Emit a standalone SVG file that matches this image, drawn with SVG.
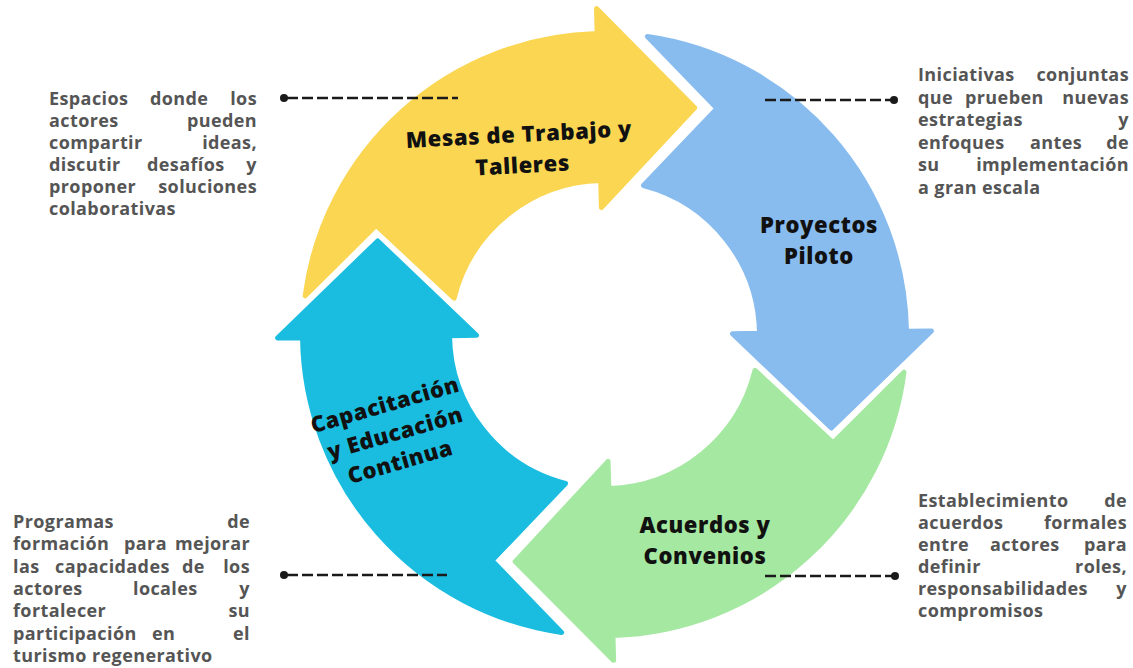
<svg xmlns="http://www.w3.org/2000/svg" width="1133" height="668" viewBox="0 0 1133 668">
<defs>
<path id="arrowShape" d="M 306.2 286.44 A 302 302 0 0 1 604.5 31.5 L 604.5 6.5 L 700.2 108 L 604.5 205.5 L 604.5 178.5 A 155 155 0 0 0 455.08 292.47 L 379 217.8 Z"/>
</defs>
<style>
.arrow { stroke-width:5; stroke-linejoin:round; }
.lbl { font-family:"Open Sans","Liberation Sans",sans-serif; font-weight:800; font-size:22px; letter-spacing:0.6px; fill:#111; text-anchor:middle; }
.desc { font-family:"Open Sans","Liberation Sans",sans-serif; font-weight:700; font-size:18px; fill:#555555; letter-spacing:0.4px; }
.e { text-anchor:end; }
.dash { stroke:#1a1a1a; stroke-width:2.5; stroke-dasharray:11 4; fill:none; }
.dot { fill:#1a1a1a; }
</style>
<rect width="1133" height="668" fill="#ffffff"/>

<g id="node-mesas">
<use href="#arrowShape" class="arrow" fill="#FAD652" stroke="#FAD652" transform="translate(0 2) rotate(-1.4 604.5 333.5)"/>
<text class="lbl" transform="rotate(-3 521 156)"><tspan x="520" y="142">Mesas de Trabajo y</tspan><tspan x="522" y="173">Talleres</tspan></text>
</g>
<g id="node-proyectos">
<use href="#arrowShape" class="arrow" fill="#88BCEF" stroke="#88BCEF" transform="translate(0 2) rotate(89.2 604.5 333.5)"/>
<text class="lbl"><tspan x="819" y="233">Proyectos</tspan><tspan x="819" y="264">Piloto</tspan></text>
</g>
<g id="node-acuerdos">
<use href="#arrowShape" class="arrow" fill="#A5E8A1" stroke="#A5E8A1" transform="rotate(178.4 604.5 333.5)"/>
<text class="lbl"><tspan x="705" y="533">Acuerdos y</tspan><tspan x="705" y="564">Convenios</tspan></text>
</g>
<g id="node-capacitacion">
<use href="#arrowShape" class="arrow" fill="#1ABDE0" stroke="#1ABDE0" transform="rotate(269.2 604.5 333.5)"/>
<text class="lbl" transform="rotate(-16 395 440)"><tspan x="395" y="411">Capacitación</tspan><tspan x="397" y="441">y Educación</tspan><tspan x="394" y="470">Continua</tspan></text>
</g>

<g id="connectors">
<line class="dash" x1="287" y1="98" x2="458" y2="98"/><circle class="dot" cx="284" cy="98" r="4"/>
<line class="dash" x1="765" y1="100" x2="891" y2="100"/><circle class="dot" cx="894" cy="100" r="4"/>
<line class="dash" x1="287" y1="575" x2="447" y2="575"/><circle class="dot" cx="284" cy="575" r="4"/>
<line class="dash" x1="765" y1="576" x2="892" y2="576"/><circle class="dot" cx="895" cy="576" r="4"/>
</g>

<g id="desc-mesas">
<text class="desc" x="49" y="105">Espacios</text><text class="desc" x="150" y="105">donde</text><text class="desc e" x="257" y="105">los</text>
<text class="desc" x="49" y="127">actores</text><text class="desc e" x="257" y="127">pueden</text>
<text class="desc" x="49" y="149">compartir</text><text class="desc e" x="257" y="149">ideas,</text>
<text class="desc" x="49" y="171">discutir</text><text class="desc" x="147" y="171">desafíos</text><text class="desc e" x="257" y="171">y</text>
<text class="desc" x="49" y="193">proponer</text><text class="desc e" x="257" y="193">soluciones</text>
<text class="desc" x="49" y="215">colaborativas</text>
</g>
<g id="desc-proyectos">
<text class="desc" x="918" y="81">Iniciativas</text><text class="desc e" x="1129" y="81">conjuntas</text>
<text class="desc" x="918" y="103.5">que</text><text class="desc" x="965" y="103.5">prueben</text><text class="desc e" x="1129" y="103.5">nuevas</text>
<text class="desc" x="918" y="126">estrategias</text><text class="desc e" x="1129" y="126">y</text>
<text class="desc" x="918" y="148.5">enfoques</text><text class="desc" x="1030" y="148.5">antes</text><text class="desc e" x="1129" y="148.5">de</text>
<text class="desc" x="918" y="171">su</text><text class="desc e" x="1129" y="171">implementación</text>
<text class="desc" x="918" y="193.5">a gran escala</text>
</g>
<g id="desc-acuerdos">
<text class="desc" x="918" y="507">Establecimiento</text><text class="desc e" x="1127" y="507">de</text>
<text class="desc" x="918" y="529">acuerdos</text><text class="desc e" x="1127" y="529">formales</text>
<text class="desc" x="918" y="551">entre</text><text class="desc" x="990" y="551">actores</text><text class="desc e" x="1127" y="551">para</text>
<text class="desc" x="918" y="573">definir</text><text class="desc e" x="1127" y="573">roles,</text>
<text class="desc" x="918" y="595">responsabilidades</text><text class="desc e" x="1127" y="595">y</text>
<text class="desc" x="918" y="617">compromisos</text>
</g>
<g id="desc-capacitacion">
<text class="desc" x="13" y="528">Programas</text><text class="desc e" x="250" y="528">de</text>
<text class="desc" x="13" y="550">formación</text><text class="desc" x="124" y="550">para</text><text class="desc e" x="250" y="550">mejorar</text>
<text class="desc" x="13" y="572.5">las</text><text class="desc" x="55" y="572.5">capacidades</text><text class="desc" x="182" y="572.5">de</text><text class="desc e" x="250" y="572.5">los</text>
<text class="desc" x="13" y="595">actores</text><text class="desc" x="133" y="595">locales</text><text class="desc e" x="250" y="595">y</text>
<text class="desc" x="13" y="617">fortalecer</text><text class="desc e" x="250" y="617">su</text>
<text class="desc" x="13" y="639.5">participación</text><text class="desc" x="152" y="639.5">en</text><text class="desc e" x="250" y="639.5">el</text>
<text class="desc" x="13" y="662">turismo regenerativo</text>
</g>
</svg>
